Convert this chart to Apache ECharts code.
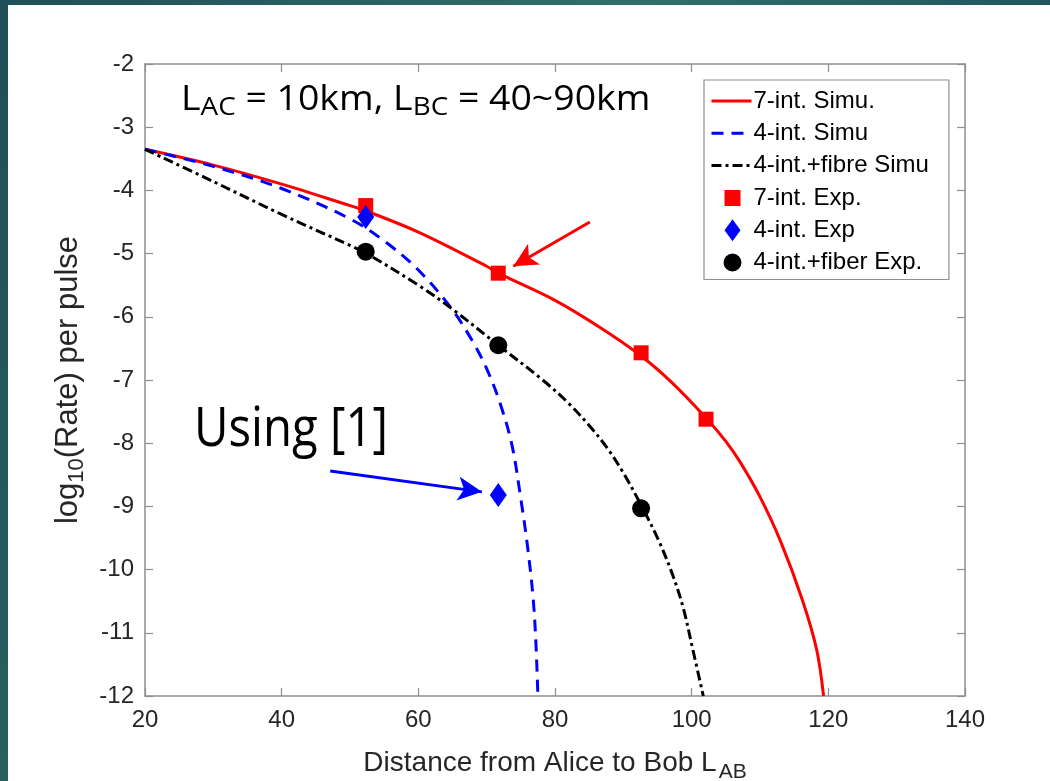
<!DOCTYPE html>
<html>
<head>
<meta charset="utf-8">
<script src="https://cdn.jsdelivr.net/npm/echarts@6/dist/echarts.min.js"></script>
<style>
  html, body { margin: 0; padding: 0; background: #ffffff; }
  #chart { width: 1050px; height: 781px; }
</style>
</head>
<body>
<div id="chart"></div>
<script>
// ---- data ----
const red7SimX = [20, 30, 40, 50, 52, 60, 70, 71.7, 80, 86.6, 92.6, 97, 102.1, 105, 107.1, 110, 113, 116.2, 118.3, 119.3];
const red7SimY = [-3.35, -3.6, -3.9, -4.24, -4.31, -4.66, -5.2, -5.31, -5.74, -6.17, -6.62, -7.03, -7.6, -7.97, -8.3, -8.85, -9.55, -10.48, -11.27, -12];

const blue4SimX = [20, 30, 40, 50, 55, 60, 65, 68, 70, 72, 73.7, 75, 76, 76.8, 77.2, 77.5];
const blue4SimY = [-3.35, -3.62, -3.97, -4.45, -4.8, -5.26, -5.89, -6.4, -6.82, -7.38, -8.03, -8.88, -9.65, -10.45, -11.15, -12];

const blackSimX = [20, 30, 40, 50, 52.3, 60, 65, 71.7, 78.2, 82, 85, 87.6, 90, 92.6, 95, 97, 98.7, 100.2, 101.7];
const blackSimY = [-3.35, -3.86, -4.38, -4.87, -4.99, -5.5, -5.88, -6.45, -7.0, -7.37, -7.72, -8.07, -8.47, -8.98, -9.5, -10.02, -10.58, -11.28, -12];

const red7ExpX = [52.3, 71.7, 92.6, 102.1];
const red7ExpY = [-4.24, -5.31, -6.57, -7.62];

const blue4ExpX = [52.3, 71.7];
const blue4ExpY = [-4.42, -8.82];

const blackExpX = [52.3, 71.7, 92.6];
const blackExpY = [-4.97, -6.45, -9.03];

// annotation arrows (data coordinates: [x, y])
const redArrow = [[85.1, -4.5], [73.9, -5.2]];
const blueArrow = [[47.1, -8.44], [69.3, -8.77]];

const seriesNames = ['7-int. Simu.', '4-int. Simu', '4-int.+fibre Simu', '7-int. Exp.', '4-int. Exp', '4-int.+fiber Exp.'];

const xMin = 20, xMax = 140, xStep = 20;
const yMin = -12, yMax = -2, yStep = 1;

function zip(xs, ys) { return xs.map((x, i) => [x, ys[i]]); }

const chart = echarts.init(document.getElementById('chart'), null, { renderer: 'canvas' });

const axisGray = '#8f8f8f';
const labelColor = '#262626';
const font = 'Liberation Sans, Arial, sans-serif';
const slideFont = 'Open Sans, DejaVu Sans, sans-serif';

// legend icons in a 40x22 box (tiny corner anchors keep the box size)
const anchors = 'M0,0L0.01,0L0,0.01Z M40,22L39.99,22L40,21.99Z ';
const iconSquare = 'path://' + anchors + 'M13,3H29V19H13Z';
const iconDiamond = 'path://' + anchors + 'M21,0L29,11L21,22L13,11Z';
const iconCircle = 'path://' + anchors + 'M21,2A9,9 0 1,1 20.99,2Z';

const sideAxis = (pos, isX) => ({
  type: 'value', min: isX ? xMin : yMin, max: isX ? xMax : yMax, interval: isX ? xStep : yStep, position: pos,
  axisLine: { show: true, lineStyle: { color: axisGray, width: 1.5 } },
  axisTick: { show: true, inside: true, length: 8, lineStyle: { color: axisGray, width: 1.2 } },
  axisLabel: { show: false }, splitLine: { show: false }
});

const option = {
  animation: false,
  backgroundColor: '#ffffff',
  grid: { left: 145, right: 85, top: 64, bottom: 85, containLabel: false, outerBoundsMode: 'none' },
  xAxis: [
    {
      type: 'value', min: xMin, max: xMax, interval: xStep, position: 'bottom',
      axisLine: { show: true, lineStyle: { color: axisGray, width: 1.5 } },
      axisTick: { show: true, inside: true, length: 8, lineStyle: { color: axisGray, width: 1.2 } },
      axisLabel: { color: labelColor, fontSize: 24, fontFamily: font, margin: 12 },
      splitLine: { show: false },
      name: '{a|Distance from Alice to Bob L}{s|AB}',
      nameLocation: 'middle', nameGap: 48,
      nameTextStyle: {
        rich: {
          a: { fontSize: 28, fontFamily: font, color: labelColor },
          s: { fontSize: 21, fontFamily: font, color: labelColor, padding: [18, 0, 0, 2] }
        }
      }
    },
    sideAxis('top', true)
  ],
  yAxis: [
    {
      type: 'value', min: yMin, max: yMax, interval: yStep, position: 'left',
      axisLine: { show: true, lineStyle: { color: axisGray, width: 1.5 } },
      axisTick: { show: true, inside: true, length: 8, lineStyle: { color: axisGray, width: 1.2 } },
      axisLabel: { color: labelColor, fontSize: 24, fontFamily: font, margin: 11 },
      splitLine: { show: false },
      name: '{a|log}{s|10}{a|(Rate) per pulse}',
      nameLocation: 'middle', nameGap: 53, nameRotate: 90,
      nameTextStyle: {
        rich: {
          a: { fontSize: 31, fontFamily: font, color: labelColor },
          s: { fontSize: 22, fontFamily: font, color: labelColor, padding: [17, 0, 0, 0] }
        }
      }
    },
    sideAxis('right', false)
  ],
  legend: {
    orient: 'vertical',
    left: 704, top: 80,
    padding: [9, 20, 5, 6],
    itemWidth: 40, itemHeight: 22, itemGap: 8.3,
    backgroundColor: '#ffffff',
    borderColor: '#8f8f8f', borderWidth: 1.2,
    textStyle: { fontSize: 24, lineHeight: 24, fontFamily: font, color: '#000000', padding: [0, 0, 0, -3] },
    data: [
      { name: seriesNames[0], itemStyle: { opacity: 0, borderWidth: 0 }, lineStyle: { width: 3 } },
      { name: seriesNames[1], itemStyle: { opacity: 0, borderWidth: 0 }, lineStyle: { width: 3 } },
      { name: seriesNames[2], itemStyle: { opacity: 0, borderWidth: 0 }, lineStyle: { width: 3 } },
      { name: seriesNames[3], icon: iconSquare },
      { name: seriesNames[4], icon: iconDiamond },
      { name: seriesNames[5], icon: iconCircle }
    ],
    selectedMode: false
  },
  series: [
    {
      name: seriesNames[0], type: 'line', data: zip(red7SimX, red7SimY),
      symbol: 'none', showSymbol: false, smooth: 0.35, z: 3,
      lineStyle: { color: '#ff0000', width: 3 }, itemStyle: { color: '#ff0000' },
      markLine: {
        silent: true, animation: false, symbolSize: [18, 24],
        label: { show: false },
        lineStyle: { color: '#ff0000', width: 3, type: 'solid' },
        data: [[{ coord: redArrow[0], symbol: 'none' }, { coord: redArrow[1], symbol: 'arrow' }]]
      }
    },
    {
      name: seriesNames[1], type: 'line', data: zip(blue4SimX, blue4SimY),
      symbol: 'none', showSymbol: false, smooth: 0.35, z: 3,
      lineStyle: { color: '#0000ff', width: 3, type: [12, 8] }, itemStyle: { color: '#0000ff' },
      markLine: {
        silent: true, animation: false, symbolSize: [18, 24],
        label: { show: false },
        lineStyle: { color: '#0000ff', width: 3, type: 'solid' },
        data: [[{ coord: blueArrow[0], symbol: 'none' }, { coord: blueArrow[1], symbol: 'arrow' }]]
      }
    },
    {
      name: seriesNames[2], type: 'line', data: zip(blackSimX, blackSimY),
      symbol: 'none', showSymbol: false, smooth: 0.35, z: 3,
      lineStyle: { color: '#000000', width: 3, type: [10, 4, 3, 4] }, itemStyle: { color: '#000000' }
    },
    {
      name: seriesNames[3], type: 'scatter', data: zip(red7ExpX, red7ExpY),
      symbol: 'rect', symbolSize: 15, z: 4,
      itemStyle: { color: '#ff0000', opacity: 1 }
    },
    {
      name: seriesNames[4], type: 'scatter', data: zip(blue4ExpX, blue4ExpY),
      symbol: 'diamond', symbolSize: [17, 24], z: 5,
      itemStyle: { color: '#0000ff', opacity: 1 }
    },
    {
      name: seriesNames[5], type: 'scatter', data: zip(blackExpX, blackExpY),
      symbol: 'circle', symbolSize: 18, z: 4,
      itemStyle: { color: '#000000', opacity: 1 }
    }
  ],
  graphic: [
    {
      type: 'rect', left: 0, top: 0, z: 100, silent: true,
      shape: { width: 1050, height: 5 },
      style: { fill: new echarts.graphic.LinearGradient(0, 0, 1, 0, [
        { offset: 0, color: '#1f4f58' }, { offset: 0.6, color: '#316f6b' }, { offset: 1, color: '#215660' }
      ]) }
    },
    {
      type: 'rect', left: 0, top: 0, z: 100, silent: true,
      shape: { width: 8, height: 781 },
      style: { fill: new echarts.graphic.LinearGradient(0, 0, 0, 1, [
        { offset: 0, color: '#1f4f58' }, { offset: 1, color: '#27605f' }
      ]) }
    },
    {
      type: 'text', x: 181, y: 79, scaleX: 1.07, z: 50, silent: true,
      style: {
        text: '{a|L}{s|AC}{a| = 10km, L}{s|BC}{a| = 40~90km}',
        rich: {
          a: { fontSize: 35, fontFamily: slideFont, fill: '#000000' },
          s: { fontSize: 26, fontFamily: slideFont, fill: '#000000', padding: [16, 0, 0, 0] }
        }
      }
    },
    {
      type: 'text', x: 194, y: 403, scaleX: 0.86, z: 50, silent: true,
      style: { text: 'Using [1]', fontSize: 55, fontFamily: slideFont, fill: '#000000' }
    }
  ]
};

chart.setOption(option);
</script>
</body>
</html>
